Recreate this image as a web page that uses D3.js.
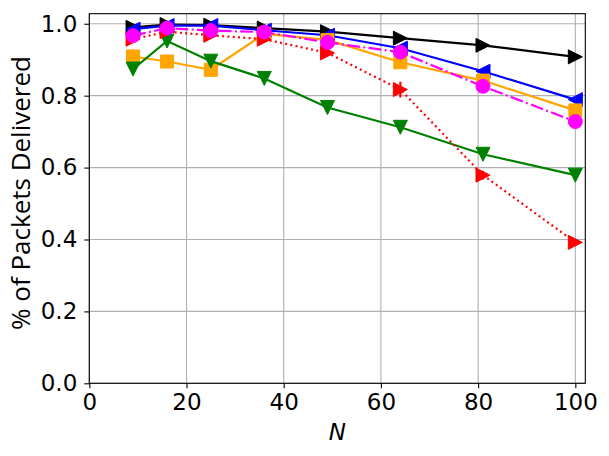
<!DOCTYPE html>
<html>
<head>
<meta charset="utf-8">
<script src="https://cdn.jsdelivr.net/npm/d3@7"></script>
<style>
body { margin: 0; background: #fff; }
text { font-family: "DejaVu Sans", sans-serif; }
</style>
</head>
<body>
<div id="chart"></div>
<script>
// node counts on the x axis
var nodes = [9, 16, 25, 36, 49, 64, 81, 100];

// fraction of packets delivered, one array per protocol
var blackVals   = [0.990, 0.998, 0.996, 0.988, 0.978, 0.960, 0.940, 0.908];
var blueVals    = [0.985, 0.995, 0.995, 0.982, 0.968, 0.932, 0.868, 0.789];
var orangeVals  = [0.909, 0.895, 0.872, 0.972, 0.955, 0.893, 0.842, 0.759];
var greenVals   = [0.874, 0.952, 0.896, 0.848, 0.767, 0.712, 0.637, 0.579];
var redVals     = [0.957, 0.978, 0.968, 0.957, 0.919, 0.817, 0.579, 0.392];
var magentaVals = [0.967, 0.988, 0.981, 0.977, 0.948, 0.921, 0.826, 0.728];

// error bar half-heights
var blackErr   = [0.004, 0.003, 0.003, 0.003, 0.003, 0.003, 0.003, 0.003];
var blueErr    = [0.008, 0.006, 0.006, 0.006, 0.005, 0.006, 0.008, 0.008];
var orangeErr  = [0.020, 0.010, 0.018, 0.008, 0.008, 0.008, 0.008, 0.010];
var greenErr   = [0.008, 0.006, 0.006, 0.005, 0.005, 0.005, 0.005, 0.005];
var redErr     = [0.010, 0.010, 0.008, 0.008, 0.008, 0.022, 0.012, 0.008];
var magentaErr = [0.004, 0.004, 0.004, 0.004, 0.004, 0.004, 0.004, 0.004];

var xTicks = [0, 20, 40, 60, 80, 100];
var yTicks = [0.0, 0.2, 0.4, 0.6, 0.8, 1.0];

var series = [
    {name: 'black',   vals: blackVals,   err: blackErr,   color: '#000000', marker: 'right', dash: null},
    {name: 'blue',    vals: blueVals,    err: blueErr,    color: '#0000ff', marker: 'left',  dash: null},
    {name: 'orange',  vals: orangeVals,  err: orangeErr,  color: '#ffa500', marker: 'square', dash: null},
    {name: 'green',   vals: greenVals,   err: greenErr,   color: '#008000', marker: 'down',  dash: null},
    {name: 'red',     vals: redVals,     err: redErr,     color: '#ff0000', marker: 'right', dash: '2,3.3'},
    {name: 'magenta', vals: magentaVals, err: magentaErr, color: '#ff00ff', marker: 'circle', dash: '13,3.3,2,3.3'}
];

function markerPath(type, r) {
    switch (type) {
    case 'right': return 'M' + r + ',0L' + (-r) + ',' + (-r) + 'L' + (-r) + ',' + r + 'Z';
    case 'left': return 'M' + (-r) + ',0L' + r + ',' + (-r) + 'L' + r + ',' + r + 'Z';
    case 'down': return 'M0,' + r + 'L' + (-r) + ',' + (-r) + 'L' + r + ',' + (-r) + 'Z';
    case 'square': return 'M' + (-r) + ',' + (-r) + 'H' + r + 'V' + r + 'H' + (-r) + 'Z';
    default: return d3.symbol().type(d3.symbolCircle).size(Math.PI * r * r)();
    }
}

function drawChart() {
    var W = 609, H = 456,
        pl = 89.3, pr = 585.3, pt = 13.7, pb = 383.3;

    var svg = d3.select('#chart').append('svg')
        .attr('width', W)
        .attr('height', H);

    var x = d3.scaleLinear().domain([0, 102.05]).range([pl, pr]);
    var y = d3.scaleLinear().domain([0, 1.028]).range([pb, pt]);

    // grid
    var grid = svg.append('g').attr('class', 'grid');
    grid.selectAll('.gx').data(xTicks).enter().append('line')
        .attr('x1', function (d) { return x(d); })
        .attr('x2', function (d) { return x(d); })
        .attr('y1', pt).attr('y2', pb)
        .style('stroke', '#b0b0b0').style('stroke-width', 1.1);
    grid.selectAll('.gy').data(yTicks).enter().append('line')
        .attr('y1', function (d) { return y(d); })
        .attr('y2', function (d) { return y(d); })
        .attr('x1', pl).attr('x2', pr)
        .style('stroke', '#b0b0b0').style('stroke-width', 1.1);

    // axes
    var xAxis = svg.append('g')
        .attr('transform', 'translate(0,' + pb + ')')
        .call(d3.axisBottom(x).tickValues(xTicks).tickFormat(d3.format('d'))
            .tickSizeInner(5).tickSizeOuter(0).tickPadding(6));
    var yAxis = svg.append('g')
        .attr('transform', 'translate(' + pl + ',0)')
        .call(d3.axisLeft(y).tickValues(yTicks).tickFormat(d3.format('.1f'))
            .tickSizeInner(5).tickSizeOuter(0).tickPadding(6));
    [xAxis, yAxis].forEach(function (a) {
        a.select('.domain').remove();
        a.selectAll('line').style('stroke', '#000').style('stroke-width', 1.1);
        a.selectAll('text').style('font-size', '23px')
            .style('font-family', '"DejaVu Sans", sans-serif').style('fill', '#000');
    });
    xAxis.selectAll('text').attr('y', 10.5);
    yAxis.selectAll('text').attr('x', -12);

    // clip to plot area
    svg.append('clipPath').attr('id', 'clip').append('rect')
        .attr('x', pl).attr('y', pt)
        .attr('width', pr - pl).attr('height', pb - pt);

    var line = d3.line()
        .x(function (d) { return x(d[0]); })
        .y(function (d) { return y(d[1]); });

    var plot = svg.append('g').attr('clip-path', 'url(#clip)');
    series.forEach(function (s) {
        var pts = nodes.map(function (n, i) { return [n, s.vals[i], s.err[i]]; });
        var g = plot.append('g').attr('class', s.name);
        g.append('path')
            .attr('d', line(pts))
            .style('fill', 'none')
            .style('stroke', s.color)
            .style('stroke-width', 2.2)
            .style('stroke-dasharray', s.dash);
        g.selectAll('.err').data(pts).enter().append('line')
            .attr('x1', function (d) { return x(d[0]); })
            .attr('x2', function (d) { return x(d[0]); })
            .attr('y1', function (d) { return y(d[1] - d[2]); })
            .attr('y2', function (d) { return y(d[1] + d[2]); })
            .style('stroke', s.color).style('stroke-width', 2.2);
        g.selectAll('.mk').data(pts).enter().append('path')
            .attr('transform', function (d) { return 'translate(' + x(d[0]) + ',' + y(d[1]) + ')'; })
            .attr('d', markerPath(s.marker, s.marker === 'square' ? 6.5 : 7))
            .style('fill', s.color)
            .style('stroke', s.color)
            .style('stroke-width', 1);
    });

    // frame
    svg.append('rect')
        .attr('x', pl).attr('y', pt)
        .attr('width', pr - pl).attr('height', pb - pt)
        .style('fill', 'none').style('stroke', '#000').style('stroke-width', 1.1);

    // labels
    svg.append('text')
        .attr('x', (pl + pr) / 2).attr('y', 440)
        .attr('text-anchor', 'middle')
        .style('font-size', '23px').style('font-style', 'italic')
        .text('N');
    svg.append('text')
        .attr('transform', 'translate(30,193) rotate(-90)')
        .attr('text-anchor', 'middle')
        .style('font-family', '"Open Sans", sans-serif')
        .style('font-size', '26px')
        .text('% of Packets Delivered');
}

drawChart();
</script>
</body>
</html>
